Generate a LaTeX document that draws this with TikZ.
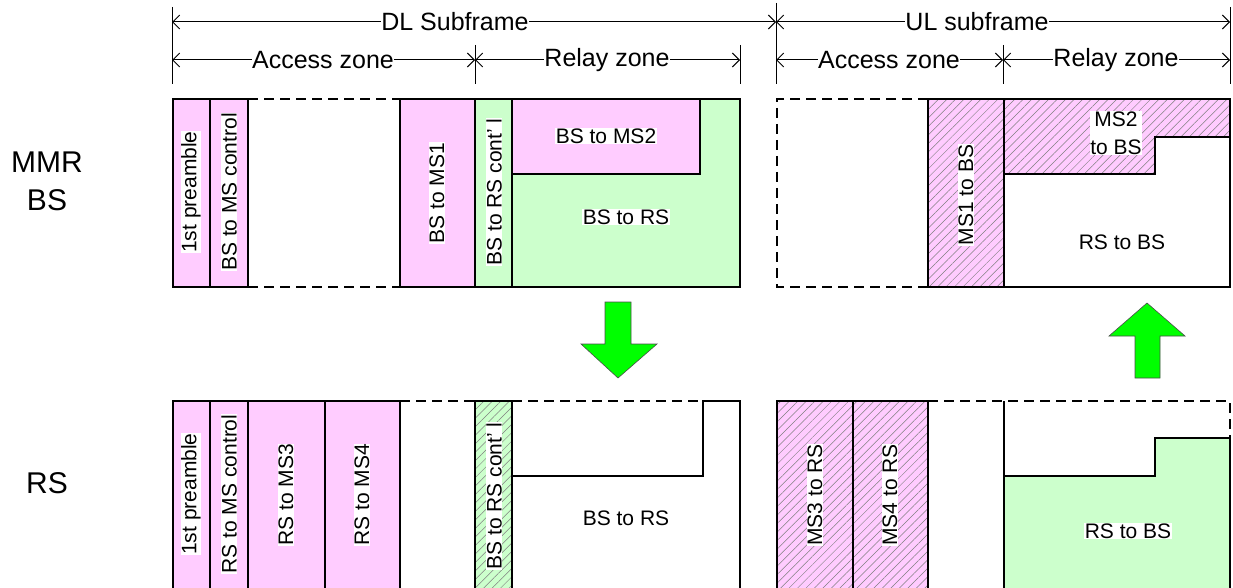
\documentclass[tikz,border=0pt]{standalone}
\usepackage{fontspec}
\setmainfont{Liberation Sans}
\usetikzlibrary{arrows.meta,patterns.meta}
\definecolor{lpink}{HTML}{FFCCFF}
\definecolor{lgreen}{HTML}{CCFFCC}
\definecolor{agreen}{HTML}{00FF00}
\begin{document}
\begin{tikzpicture}[x=1pt,y=-1pt,
 box/.style={draw, line width=1.5pt},
 dsh/.style={line width=1.5pt, dash pattern=on 10pt off 6pt},
 dim/.style={line width=1pt, {Straight Barb[length=7pt,width=14pt]}-{Straight Barb[length=7pt,width=14pt]}},
 tick/.style={line width=1pt},
 lbl/.style={font=\fontsize{21}{25}\selectfont, fill=white, inner sep=0.5pt},
 dlbl/.style={font=\fontsize{25}{30}\selectfont, fill=white, inner sep=0.5pt},
 side/.style={font=\fontsize{30}{38}\selectfont, align=center},
 hatch/.style={pattern={Lines[angle=45,distance=6pt,line width=0.5pt]}, pattern color=gray},
 bigarrow/.style={fill=agreen, draw=black!70, line width=0.6pt}]
\useasboundingbox (0,0) rectangle (1233,588);
\clip (0,0) rectangle (1233,588);

% ---------- dimension lines ----------
\draw[tick] (172,7) -- (172,84);
\draw[tick] (475,45) -- (475,84);
\draw[tick] (740,45) -- (740,84);
\draw[tick] (776,3) -- (776,84);
\draw[tick] (1003,45) -- (1003,84);
\draw[tick] (1230,7) -- (1230,84);
\coordinate (d0) at (172,22); \coordinate (d1) at (776,22); \coordinate (d2) at (1230,22);
\coordinate (a0) at (172,60); \coordinate (a1) at (475,60); \coordinate (a2) at (740,60);
\coordinate (u0) at (776,60); \coordinate (u1) at (1003,60); \coordinate (u2) at (1230,60);
\draw[dim] (d0) -- (d1);
\draw[dim] (d1) -- (d2);
\draw[dim] (a0) -- (a1);
\draw[dim] (a1) -- (a2);
\draw[dim] (u0) -- (u1);
\draw[dim] (u1) -- (u2);
\node[dlbl] (tdl) at (455,22) {DL Subframe};
\node[dlbl] (tul) at (977,22) {UL subframe};
\node[dlbl] (tda) at (323,60) {Access zone};
\node[dlbl] (tdr) at (607,60) {Relay zone};
\node[dlbl] (tua) at (889,60) {Access zone};
\node[dlbl] (tur) at (1116,60) {Relay zone};

% ---------- side labels ----------
\node[side] (smmr) at (47,181) {MMR\\BS};
\node[side] (srs) at (47,483) {RS};

% ---------- MMR BS row, DL ----------
\draw[box, fill=lpink] (173,99) rectangle (210,287);
\draw[box, fill=lpink] (210,99) rectangle (248,287);
\draw[dsh] (248,99) -- (400,99);
\draw[dsh] (248,287) -- (400,287);
\draw[box, fill=lpink] (400,99) rectangle (475,287);
\draw[box, fill=lgreen] (475,99) rectangle (512,287);
\draw[box, fill=lgreen] (512,99) rectangle (740,287);
\draw[box, fill=lpink] (512,99) rectangle (700,174);
\node[lbl, rotate=90] (b1) at (191,192) {1st preamble};
\node[lbl, rotate=90] (b2) at (229,192) {BS to MS control};
\node[lbl, rotate=90] (b3) at (437,193) {BS to MS1};
\node[lbl, rotate=90] (b4) at (494,192) {BS to RS cont’ l};
\node[lbl] (b5) at (606,136) {BS to MS2};
\node[lbl] (b6) at (626,217) {BS to RS};

% ---------- MMR BS row, UL ----------
\draw[dsh] (928,99) -- (777,99) -- (777,287) -- (928,287);
\draw[box, hatch, preaction={fill=lpink}] (928,99) rectangle (1004,287);
\draw[box] (1004,99) rectangle (1230,287);
\draw[box, hatch, preaction={fill=lpink}] (1004,99) -- (1230,99) -- (1230,137) -- (1155,137) -- (1155,174) -- (1004,174) -- cycle;
\node[lbl, rotate=90] (c1) at (966,195) {MS1 to BS};
\node[lbl, align=center, font=\fontsize{21}{28}\selectfont] (c2) at (1116,133) {MS2\\to BS};
\node[lbl] (c3) at (1122,242) {RS to BS};

% ---------- green arrows ----------
\draw[bigarrow] (605,302) -- (631,302) -- (631,344) -- (657,344) -- (618,378) -- (581,344) -- (605,344) -- cycle;
\draw[bigarrow] (1135,378) -- (1160,378) -- (1160,336) -- (1185,336) -- (1147,303) -- (1109,336) -- (1135,336) -- cycle;

% ---------- RS row, DL ----------
\draw[box, fill=lpink] (173,401) rectangle (210,600);
\draw[box, fill=lpink] (210,401) rectangle (248,600);
\draw[box, fill=lpink] (248,401) rectangle (325,600);
\draw[box, fill=lpink] (325,401) rectangle (400,600);
\draw[dsh] (400,401) -- (475,401);
\draw[box, hatch, preaction={fill=lgreen}] (475,401) rectangle (512,600);
\draw[dsh] (512,401) -- (703,401);
\draw[box] (512,600) -- (512,476) -- (703,476) -- (703,401) -- (740,401) -- (740,600);
\node[lbl, rotate=90] (r1) at (191,494) {1st preamble};
\node[lbl, rotate=90] (r2) at (229,494) {RS to MS control};
\node[lbl, rotate=90] (r3) at (286,495) {RS to MS3};
\node[lbl, rotate=90] (r4) at (362,495) {RS to MS4};
\node[lbl, rotate=90] (r5) at (494,496) {BS to RS cont’ l};
\node[lbl] (r6) at (626,518) {BS to RS};

% ---------- RS row, UL ----------
\draw[box, hatch, preaction={fill=lpink}] (777,401) rectangle (853,600);
\draw[box, hatch, preaction={fill=lpink}] (853,401) rectangle (928,600);
\draw[dsh] (928,401) -- (1230,401) -- (1230,438);
\draw[box] (1004,401) -- (1004,600);
\draw[box, fill=lgreen] (1004,600) -- (1004,476) -- (1155,476) -- (1155,438) -- (1230,438) -- (1230,600);
\node[lbl, rotate=90] (q1) at (815,495) {MS3 to RS};
\node[lbl, rotate=90] (q2) at (890,495) {MS4 to RS};
\node[lbl] (q3) at (1128,531) {RS to BS};
\end{tikzpicture}
\end{document}
